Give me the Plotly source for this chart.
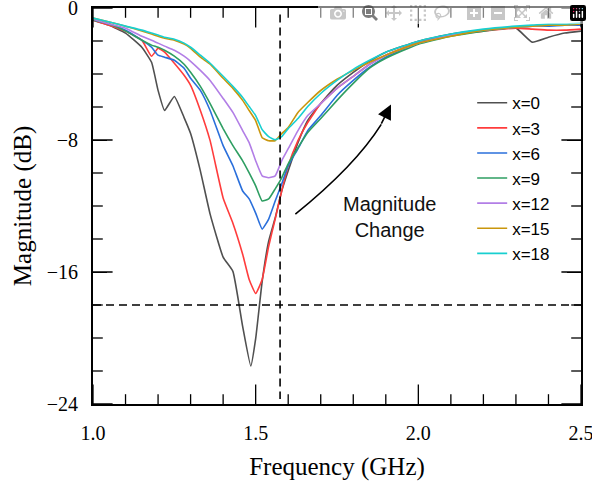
import plotly.graph_objects as go

freq = [1.00, 1.05, 1.10, 1.15, 1.18, 1.20, 1.22, 1.25, 1.28, 1.30, 1.33, 1.36, 1.40, 1.43,
        1.46, 1.48, 1.50, 1.52, 1.54, 1.56, 1.58, 1.60, 1.63, 1.66, 1.70, 1.75, 1.80, 1.85,
        1.90, 2.00, 2.10, 2.20, 2.30, 2.35, 2.40, 2.45, 2.50]

freq_x0 = [1.00, 1.05, 1.10, 1.15, 1.18, 1.20, 1.22, 1.25, 1.28, 1.30, 1.33, 1.36, 1.40, 1.43,
           1.46, 1.485, 1.50, 1.52, 1.54, 1.56, 1.58, 1.60, 1.63, 1.66, 1.70, 1.75, 1.80, 1.85,
           1.90, 2.00, 2.10, 2.20, 2.30, 2.35, 2.40, 2.45, 2.50]

mag_x0 = [-0.73, -1.04, -1.52, -2.38, -3.29, -4.99, -6.21, -5.36, -6.64, -7.61, -9.87, -12.49,
          -15.1, -15.96, -19.3, -21.7, -20.04, -16.57, -14.13, -12.73, -11.09, -9.87, -8.16,
          -6.82, -5.79, -4.69, -3.9, -3.23, -2.68, -2.01, -1.58, -1.34, -1.22, -2.07, -1.77,
          -1.52, -1.40]
mag_x3 = [-0.73, -1.04, -1.40, -1.95, -2.92, -2.44, -2.68, -3.35, -4.08, -4.69, -6.21, -8.04,
          -11.51, -13.04, -14.92, -16.45, -17.3, -16.45, -14.44, -12.79, -11.09, -9.56, -8.04,
          -6.94, -5.79, -4.87, -4.14, -3.41, -2.86, -2.07, -1.64, -1.40, -1.22, -1.28, -1.34,
          -1.34, -1.28]
mag_x6 = [-0.73, -0.97, -1.34, -1.95, -2.38, -2.86, -2.98, -3.17, -3.65, -4.26, -4.99, -6.21,
          -8.34, -9.56, -11.09, -11.57, -12.43, -13.4, -12.79, -11.7, -10.66, -9.56, -8.53,
          -7.43, -6.52, -5.3, -4.39, -3.59, -2.98, -2.13, -1.64, -1.34, -1.16, -1.10, -1.10,
          -1.04, -1.04]
mag_x9 = [-0.73, -0.97, -1.40, -1.95, -2.25, -2.38, -2.56, -2.92, -3.41, -3.9, -4.75, -5.79,
          -7.31, -8.34, -9.26, -9.99, -10.78, -11.7, -11.57, -10.96, -10.29, -9.44, -8.47,
          -7.55, -6.7, -5.6, -4.57, -3.65, -3.05, -2.19, -1.71, -1.40, -1.16, -1.10, -1.04,
          -1.04, -0.97]
mag_x12 = [-0.67, -0.97, -1.22, -1.71, -1.95, -2.13, -2.31, -2.56, -2.92, -3.23, -3.78, -4.39,
           -5.48, -6.33, -7.43, -8.16, -9.26, -10.17, -10.29, -10.17, -9.26, -8.53, -7.43,
           -6.52, -5.79, -4.87, -4.14, -3.41, -2.86, -2.13, -1.64, -1.34, -1.16, -1.10, -1.04,
           -1.04, -0.97]
mag_x15 = [-0.61, -0.85, -1.10, -1.40, -1.58, -1.71, -1.83, -1.95, -2.19, -2.44, -2.98, -3.41,
           -4.26, -4.87, -5.6, -6.21, -6.82, -7.86, -8.04, -8.04, -7.61, -7.25, -6.33, -5.73,
           -5.0, -4.32, -3.78, -3.29, -2.86, -2.13, -1.71, -1.34, -1.16, -1.10, -1.04, -1.04,
           -0.97]
mag_x18 = [-0.61, -0.85, -1.10, -1.34, -1.52, -1.64, -1.77, -1.89, -2.13, -2.38, -2.86, -3.35,
           -4.14, -4.75, -5.42, -5.97, -6.52, -7.37, -7.80, -7.98, -7.80, -7.31, -6.7, -5.97,
           -5.18, -4.39, -3.72, -3.17, -2.68, -2.01, -1.58, -1.28, -1.10, -1.04, -0.97, -0.97,
           -0.91]

series_names = ["x=0", "x=3", "x=6", "x=9", "x=12", "x=15", "x=18"]
series_vals = [mag_x0, mag_x3, mag_x6, mag_x9, mag_x12, mag_x15, mag_x18]
series_freq = [freq_x0, freq, freq, freq, freq, freq, freq]
colors = ["#505050", "#ff3c3c", "#2a6fdb", "#2e9e62", "#b27ee6", "#c9960c", "#18cfd0"]

x_range = [1.0, 2.5]
y_range = [-24, 0]
x_ticks = [1.0, 1.5, 2.0, 2.5]
x_tick_text = ["1.0", "1.5", "2.0", "2.5"]
x_minor_ticks = [1.1, 1.2, 1.3, 1.4, 1.6, 1.7, 1.8, 1.9, 2.1, 2.2, 2.3, 2.4]
y_ticks = [0, -8, -16, -24]
y_minor_ticks = [-2, -4, -6, -10, -12, -14, -18, -20, -22]
gps_freq = 1.575
ref_level = -18

fig = go.Figure()
for i, (nm, vals) in enumerate(zip(series_names, series_vals)):
    fig.add_trace(go.Scatter(x=series_freq[i], y=vals, mode="lines", name=nm,
                             line=dict(color=colors[i], width=1.6, shape="spline", smoothing=0.4)))


def tick_marks(xs, ys, symbol, size):
    # inward tick marks on the frame: the half of each line marker outside the plot is clipped
    fig.add_trace(go.Scatter(x=xs, y=ys, mode="markers", showlegend=False, hoverinfo="skip",
                             cliponaxis=True,
                             marker=dict(symbol=symbol, size=size, color="black",
                                         line=dict(width=1.3, color="black"))))


tick_marks(x_ticks * 2, [y_range[0]] * len(x_ticks) + [y_range[1]] * len(x_ticks), "line-ns", 28)
tick_marks(x_minor_ticks * 2, [y_range[0]] * len(x_minor_ticks) + [y_range[1]] * len(x_minor_ticks),
           "line-ns", 14)
tick_marks([x_range[0]] * len(y_ticks) + [x_range[1]] * len(y_ticks), y_ticks * 2, "line-ew", 28)
tick_marks([x_range[0]] * len(y_minor_ticks) + [x_range[1]] * len(y_minor_ticks), y_minor_ticks * 2,
           "line-ew", 14)

# dashed reference lines
fig.add_shape(type="line", xref="x", yref="y", x0=gps_freq, x1=gps_freq, y0=-0.4, y1=-23.7,
              line=dict(color="black", width=1.6, dash="8px,5px"))
fig.add_shape(type="line", xref="paper", yref="y", x0=0, x1=1, y0=ref_level, y1=ref_level,
              line=dict(color="black", width=1.6, dash="8px,5px"))

# curved arrow
fig.add_shape(type="path", xref="x", yref="y",
              path="M 1.622,-12.49 Q 1.806,-9.56 1.886,-7.05",
              line=dict(color="black", width=1.6))
fig.add_annotation(x=1.916, y=-5.85, ax=1.884, ay=-7.1, axref="x", ayref="y",
                   xref="x", yref="y", text="", showarrow=True, arrowhead=2,
                   arrowsize=1.8, arrowwidth=1.6, arrowcolor="black", standoff=0)
fig.add_annotation(x=1.91, y=-12.65, xref="x", yref="y", text="Magnitude<br>Change",
                   showarrow=False, font=dict(family="Liberation Sans, Arial", size=20, color="#111"),
                   align="center")

serif = "Liberation Serif, Times New Roman"
tick_style = dict(ticks="inside", ticklen=14, tickcolor="black", showgrid=False,
                  automargin=False, showline=True, mirror="allticks",
                  linecolor="black", linewidth=2, ticklabeloverflow="allow",
                  tickfont=dict(family=serif, size=20, color="black"))

fig.update_layout(
    template="none",
    xaxis=dict(range=x_range, tickvals=x_ticks, ticktext=x_tick_text,
               title=dict(text="Frequency (GHz)", standoff=14,
                          font=dict(family=serif, size=25, color="black")),
               ticklabelstandoff=10, **tick_style),
    yaxis=dict(range=y_range, tickvals=y_ticks,
               title=dict(text="Magnitude (dB)", standoff=8,
                          font=dict(family=serif, size=25, color="black")),
               ticklabelstandoff=9, **tick_style),
    width=592, height=484,
    margin=dict(l=93, r=11, t=8, b=80),
    paper_bgcolor="white", plot_bgcolor="white",
    showlegend=True,
    legend=dict(x=0.777, y=0.805, xanchor="left", yanchor="top", bgcolor="rgba(0,0,0,0)",
                font=dict(family="Liberation Sans, Arial", size=17, color="black"),
                tracegroupgap=0),
)

fig.write_html("out.html", post_script="document.body.style.margin='0';")
